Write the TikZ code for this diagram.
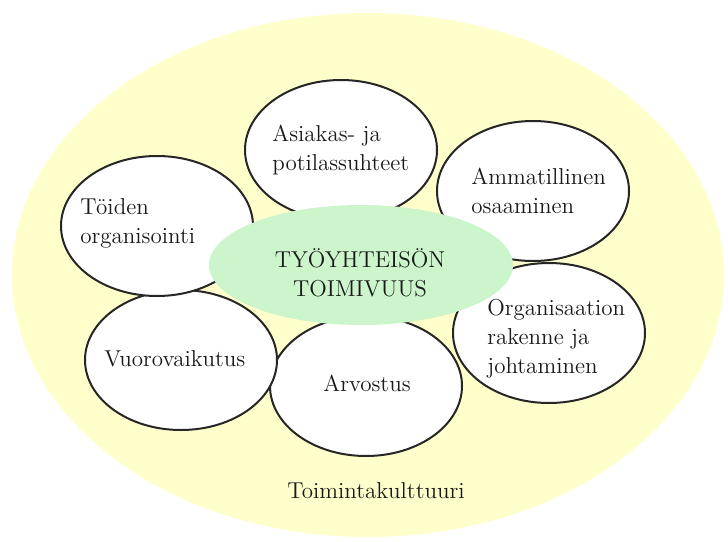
\documentclass[tikz,border=0pt]{standalone}
\usepackage{fontspec}
\usetikzlibrary{shapes.geometric}
\definecolor{kulttuuri}{RGB}{255,255,204}
\definecolor{ydin}{RGB}{204,245,204}
\tikzset{
  kupla/.style={ellipse, draw=black!85, line width=1pt, fill=white,
    minimum width=96pt, minimum height=70pt, inner sep=0pt},
  teksti/.style={align=left, inner sep=0pt, anchor=west,
    font=\fontsize{11.5}{14.5}\selectfont, text=black!90},
}
\begin{document}
\begin{tikzpicture}[x=0.5pt, y=-0.5pt]
      \useasboundingbox (0,0) rectangle (728,541);
      % toimintakulttuuri
      \fill[kulttuuri] (368,275) ellipse (356 and 262);
      \node[teksti, anchor=center] (kulttuuri) at (376,491) {Toimintakulttuuri};
      % kuplat
      \node[kupla] (asiakas) at (341,150) {};
      \node[kupla] (ammatti) at (533,191) {};
      \node[kupla] (organisaatio) at (549,333) {};
      \node[kupla] (arvostus) at (366,386) {};
      \node[kupla] (vuoro) at (181,360) {};
      \node[kupla] (toiden) at (157,226) {};
      \node[teksti] (asiakasT) at (272,150) {Asiakas- ja\\potilassuhteet};
      \node[teksti] (ammattiT) at (471,191) {Ammatillinen\\osaaminen};
      \node[teksti] (organisaatioT) at (487,339) {Organisaation\\rakenne ja\\johtaminen};
      \node[teksti] (arvostusT) at (323,383) {Arvostus};
      \node[teksti] (vuoroT) at (104,359) {Vuorovaikutus};
      \node[teksti] (toidenT) at (80,223) {Töiden\\organisointi};
      % ydin
      \node[ellipse, fill=ydin, minimum width=152pt, minimum height=60pt,
        inner sep=0pt] (ydin) at (361,265) {};
      \node[teksti, anchor=center, align=center] (ydinT) at (360,273)
        {TYÖYHTEISÖN\\TOIMIVUUS};
    \end{tikzpicture}
\end{document}
